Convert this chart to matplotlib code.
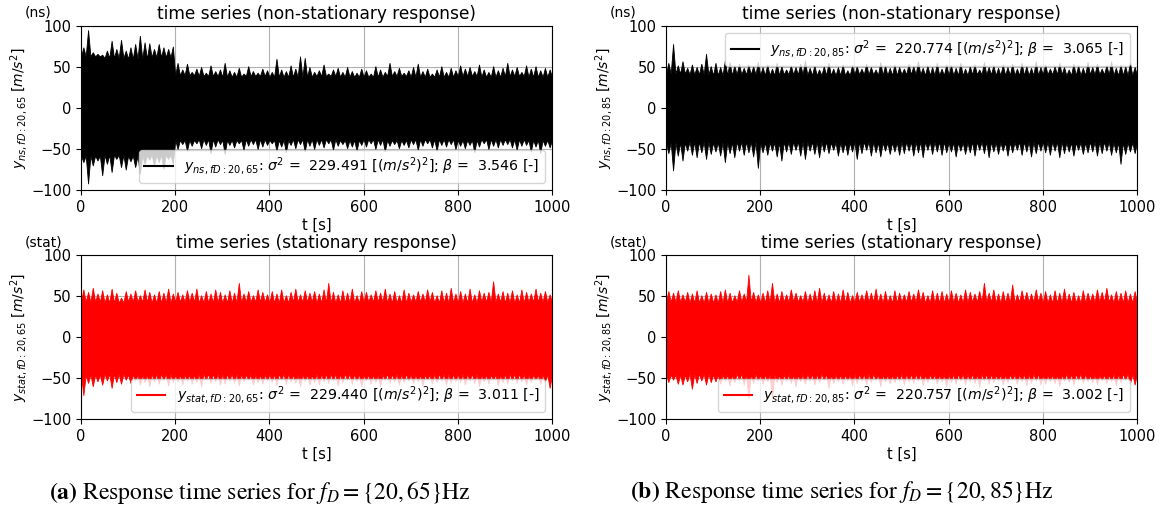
import numpy as np
import matplotlib
matplotlib.use("Agg")
import matplotlib.pyplot as plt
from matplotlib.lines import Line2D

# Peak values of the acceleration response, one per 10 s window (0..1000 s)
ns65_hi = [74, 95, 68, 66, 65, 70, 82, 72, 83, 70,
           74, 78, 88, 80, 79, 72, 78, 74, 72, 75,
           55, 47, 54, 44, 48, 50, 43, 52, 45, 47,
           55, 46, 44, 49, 42, 51, 45, 43, 48, 46,
           44, 60, 47, 45, 52, 48, 63, 61, 50, 44,
           46, 53, 42, 47, 49, 44, 50, 45, 43, 48,
           46, 42, 51, 47, 44, 55, 45, 49, 43, 46,
           50, 54, 45, 48, 42, 47, 51, 44, 49, 46,
           52, 48, 50, 45, 53, 47, 44, 51, 46, 49,
           55, 47, 50, 44, 52, 48, 51, 46, 49, 47]
ns65_lo = [-66, -92, -70, -64, -82, -68, -78, -62, -72, -75,
           -65, -72, -80, -68, -63, -70, -66, -74, -62, -68,
           -50, -44, -52, -46, -43, -49, -45, -55, -47, -44,
           -56, -45, -48, -43, -51, -46, -44, -50, -47, -45,
           -43, -52, -47, -54, -45, -49, -44, -53, -46, -50,
           -45, -48, -43, -51, -46, -44, -49, -47, -52, -45,
           -47, -43, -50, -45, -53, -46, -44, -49, -45, -48,
           -44, -51, -46, -43, -48, -52, -45, -47, -44, -50,
           -46, -49, -45, -54, -47, -43, -50, -46, -48, -45,
           -44, -48, -51, -46, -45, -53, -47, -55, -46, -48]

ns85_hi = [55, 78, 52, 57, 49, 53, 50, 54, 66, 51,
           55, 50, 58, 56, 52, 54, 49, 53, 51, 56,
           50, 53, 48, 55, 51, 47, 52, 50, 54, 58,
           49, 52, 47, 51, 55, 48, 50, 53, 46, 52,
           51, 48, 54, 50, 47, 56, 52, 49, 53, 50,
           48, 54, 51, 57, 49, 52, 50, 55, 48, 53,
           52, 49, 55, 48, 51, 53, 47, 56, 50, 52,
           49, 53, 50, 54, 48, 55, 51, 49, 57, 50,
           53, 48, 51, 55, 50, 47, 54, 52, 49, 56,
           50, 54, 48, 52, 57, 49, 53, 51, 55, 50]
ns85_lo = [-55, -76, -58, -64, -52, -57, -60, -54, -62, -56,
           -53, -58, -66, -55, -60, -52, -57, -54, -59, -73,
           -54, -57, -52, -59, -64, -53, -56, -51, -58, -62,
           -52, -56, -60, -53, -55, -51, -58, -54, -57, -53,
           -62, -55, -51, -58, -54, -59, -52, -56, -53, -57,
           -55, -52, -58, -54, -60, -51, -56, -53, -57, -54,
           -53, -59, -52, -56, -54, -58, -51, -55, -60, -53,
           -56, -52, -58, -54, -51, -57, -53, -59, -55, -52,
           -54, -57, -52, -60, -55, -53, -58, -51, -56, -54,
           -53, -58, -55, -52, -57, -54, -68, -56, -53, -55]

st65_hi = [58, 55, 60, 53, 57, 52, 59, 54, 48, 56,
           53, 57, 51, 58, 55, 52, 56, 54, 59, 53,
           55, 52, 57, 54, 59, 51, 56, 53, 58, 55,
           52, 57, 54, 66, 53, 56, 51, 58, 55, 52,
           56, 53, 58, 51, 55, 59, 52, 57, 54, 56,
           53, 58, 66, 55, 52, 57, 54, 59, 51, 56,
           55, 52, 57, 54, 59, 53, 56, 51, 58, 54,
           52, 56, 53, 58, 55, 51, 57, 54, 60, 53,
           56, 53, 59, 52, 57, 54, 55, 68, 53, 56,
           54, 57, 52, 58, 55, 53, 59, 54, 56, 52]
st65_lo = [-71, -56, -60, -54, -58, -53, -62, -55, -57, -52,
           -56, -53, -58, -55, -60, -54, -57, -52, -59, -55,
           -54, -58, -53, -57, -55, -60, -52, -56, -54, -58,
           -57, -53, -56, -59, -54, -52, -58, -55, -57, -53,
           -55, -59, -52, -57, -54, -56, -60, -53, -58, -55,
           -58, -54, -56, -53, -59, -55, -52, -57, -54, -60,
           -53, -57, -55, -60, -52, -56, -54, -58, -55, -53,
           -56, -54, -59, -52, -57, -55, -53, -58, -56, -54,
           -55, -58, -53, -56, -60, -54, -57, -52, -59, -55,
           -57, -53, -56, -54, -58, -55, -52, -57, -54, -62]

st85_hi = [56, 54, 57, 52, 55, 53, 57, 51, 55, 53,
           52, 56, 58, 54, 51, 57, 53, 76, 55, 52,
           54, 57, 66, 53, 56, 52, 58, 54, 51, 56,
           53, 57, 60, 54, 52, 56, 53, 58, 55, 51,
           55, 52, 57, 54, 59, 53, 56, 51, 57, 54,
           52, 56, 53, 58, 55, 51, 57, 54, 56, 53,
           57, 54, 52, 58, 55, 53, 56, 66, 54, 58,
           53, 56, 54, 64, 52, 57, 55, 53, 58, 54,
           56, 52, 57, 54, 59, 53, 55, 51, 57, 54,
           53, 58, 55, 60, 52, 56, 54, 57, 53, 56]
st85_lo = [-55, -52, -57, -58, -54, -63, -56, -53, -58, -55,
           -54, -57, -53, -59, -55, -52, -58, -74, -56, -53,
           -57, -54, -74, -55, -58, -53, -56, -60, -54, -57,
           -53, -58, -55, -52, -62, -56, -54, -57, -53, -59,
           -56, -53, -58, -55, -52, -60, -54, -57, -55, -53,
           -58, -54, -56, -53, -59, -55, -52, -57, -54, -60,
           -55, -57, -53, -58, -54, -56, -61, -53, -57, -55,
           -53, -58, -55, -52, -57, -54, -59, -56, -53, -58,
           -57, -54, -56, -60, -53, -55, -58, -52, -56, -54,
           -55, -58, -53, -56, -54, -59, -55, -52, -57, -58]

# Level of the solid core of each signal band, one value per 50 s segment
ns65_core_hi = [63, 61, 60, 62, 40, 39, 38, 39, 38, 38, 39, 38, 38, 39, 38, 38, 39, 38, 39, 38]
ns65_core_lo = [-58, -57, -58, -57, -39, -38, -39, -38, -39, -38, -38, -39, -38, -39, -38, -38, -39, -38, -38, -39]
ns85_core_hi = [42, 41, 40, 41, 40, 41, 40, 40, 41, 40, 41, 40, 40, 41, 40, 40, 41, 40, 41, 40]
ns85_core_lo = [-42, -41, -42, -41, -42, -41, -41, -42, -41, -42, -41, -41, -42, -41, -42, -41, -41, -42, -41, -42]
st65_core_hi = [43, 42, 43, 42, 43, 42, 42, 43, 42, 43, 42, 42, 43, 42, 43, 42, 42, 43, 42, 43]
st65_core_lo = [-46, -45, -46, -45, -46, -45, -45, -46, -45, -46, -45, -45, -46, -45, -46, -45, -45, -46, -45, -46]
st85_core_hi = [43, 42, 42, 43, 42, 43, 42, 42, 43, 42, 43, 42, 42, 43, 42, 43, 42, 42, 43, 42]
st85_core_lo = [-46, -45, -46, -45, -46, -46, -45, -46, -45, -46, -45, -46, -45, -45, -46, -45, -46, -45, -46, -45]

# Summary statistics shown in the legends
sigma2 = {"ns65": 229.491, "ns85": 220.774, "st65": 229.440, "st85": 220.757}
beta = {"ns65": 3.546, "ns85": 3.065, "st65": 3.011, "st85": 3.002}

T_END = 1000.0


def band_outline(peaks, core):
    """Outline of the band: every window peak rises from the core level."""
    peaks = np.asarray(peaks, float)
    n = len(peaks)
    core_w = np.repeat(np.asarray(core, float), n // len(core))
    half = T_END / n / 2
    centres = np.arange(n) * 2 * half + half
    x = np.empty(2 * n + 1)
    y = np.empty(2 * n + 1)
    x[0:-1:2] = centres - half
    x[1::2] = centres
    x[-1] = T_END
    y[1::2] = peaks
    y[0:-1:2] = core_w
    y[-1] = core_w[-1]
    return x, y


W, H = 1163, 513
fig = plt.figure(figsize=(W / 100, H / 100), dpi=100)


def fx(px):
    return px / W


def fy(py):
    return 1 - py / H


cols = [(81, 552), (666, 1137)]
rows = [(26, 190), (255, 419)]

panels = [
    # (row, col, hi, lo, core hi, core lo, key, kind, freq, colour, legend loc, tag)
    (0, 0, ns65_hi, ns65_lo, ns65_core_hi, ns65_core_lo, "ns65", "ns", "20,65", "black", "lower right", "(ns)"),
    (0, 1, ns85_hi, ns85_lo, ns85_core_hi, ns85_core_lo, "ns85", "ns", "20,85", "black", "upper right", "(ns)"),
    (1, 0, st65_hi, st65_lo, st65_core_hi, st65_core_lo, "st65", "stat", "20,65", "red", "lower right", "(stat)"),
    (1, 1, st85_hi, st85_lo, st85_core_hi, st85_core_lo, "st85", "stat", "20,85", "red", "lower right", "(stat)"),
]

titles = {"ns": "time series (non-stationary response)",
          "stat": "time series (stationary response)"}

for r, c, hi, lo, chi, clo, key, kind, freq, colour, loc, tag in panels:
    x0, x1 = cols[c]
    y0, y1 = rows[r]
    ax = fig.add_axes([fx(x0), fy(y1), fx(x1 - x0), (y1 - y0) / H])
    ax.set_axisbelow(True)
    xu, yu = band_outline(hi, chi)
    xl, yl = band_outline(lo, clo)
    ax.fill_between(xu, yu, 0, color=colour, lw=0.6, edgecolor=colour)
    ax.fill_between(xl, yl, 0, color=colour, lw=0.6, edgecolor=colour)
    ax.set_xlim(0, 1000)
    ax.set_ylim(-100, 100)
    ax.set_xticks([0, 200, 400, 600, 800, 1000])
    ax.set_yticks([-100, -50, 0, 50, 100])
    ax.grid(True, color="#b0b0b0", lw=0.8)
    ax.tick_params(labelsize=10.5)
    ax.set_xlabel("t [s]", fontsize=10.5, labelpad=2)
    ax.set_ylabel(r"$y_{%s,fD:%s}$ [$m/s^2$]" % (kind, freq), fontsize=10, labelpad=1)
    ax.set_title(titles[kind], fontsize=12.25, pad=5)
    ax.annotate(tag, xy=(0, 1), xycoords="axes fraction", xytext=(-56, 13),
                textcoords="offset pixels", fontsize=10, ha="left", va="center")
    label = (r"$y_{%s,fD:%s}$: $\sigma^2$ =  %.3f [$(m/s^2)^2$]; $\beta$ =  %.3f [-]"
             % (kind, freq, sigma2[key], beta[key]))
    handle = Line2D([], [], color=colour, lw=1.5)
    ax.legend([handle], [label], loc=loc, fontsize=10.2, framealpha=0.8)

caption_a = r"$\mathbf{(a)}$ Response time series for $f_D = \{20,65\}$Hz"
caption_b = r"$\mathbf{(b)}$ Response time series for $f_D = \{20,85\}$Hz"
for cx, cap in ((260, caption_a), (842, caption_b)):
    fig.text(fx(cx), fy(492), cap, ha="center", va="center", fontsize=17,
             family="STIXGeneral", math_fontfamily="stix")

fig.savefig("out.png", dpi=100)
